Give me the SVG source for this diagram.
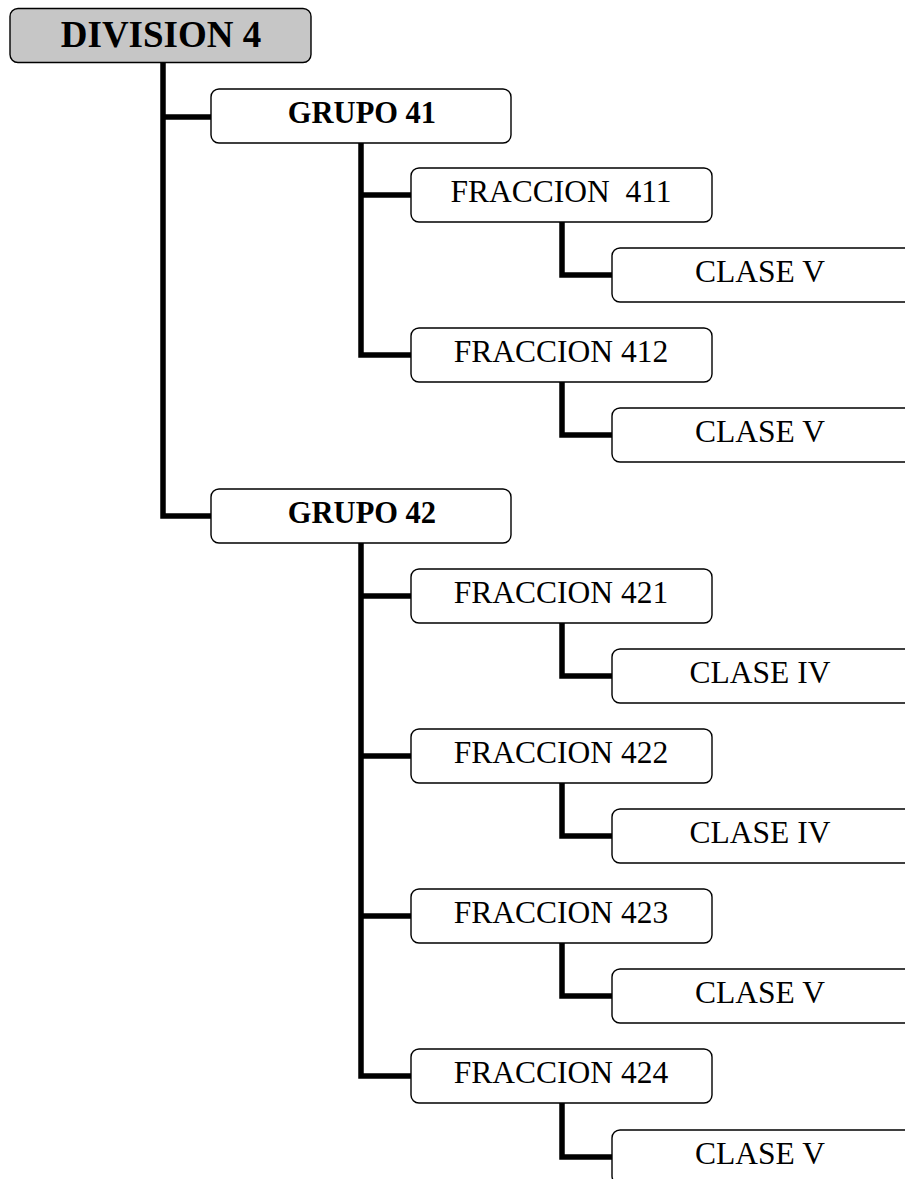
<svg xmlns="http://www.w3.org/2000/svg" width="905" height="1179" viewBox="0 0 905 1179">
<style>
.box{fill:#ffffff;stroke:#000000;stroke-width:1.4}
.gray{fill:#c6c6c6}
.t{font-family:"Liberation Serif","Times New Roman",serif;font-size:31.5px;fill:#000;text-anchor:middle}
.b{font-weight:bold;font-size:30.5px}
.big{font-weight:bold;font-size:37px}
.c{fill:none;stroke:#000;stroke-width:5.5;stroke-linejoin:miter;stroke-linecap:butt}
</style>
<rect width="905" height="1179" fill="#ffffff"/>
<g id="connectors">
<path class="c" d="M163,62 V516 H211 M163,117 H211"/>
<path class="c" d="M361,143 V355 H411 M361,195 H411"/>
<path class="c" d="M361,542 V1076 H411 M361,596 H411 M361,756 H411 M361,916 H411"/>
<path class="c" d="M562,222 V275 H612"/>
<path class="c" d="M562,382 V435 H612"/>
<path class="c" d="M562,622 V676 H612"/>
<path class="c" d="M562,782 V836 H612"/>
<path class="c" d="M562,942 V996 H612"/>
<path class="c" d="M562,1102 V1157 H612"/>
</g>
<g id="division4"><rect class="box gray" x="10" y="8.5" width="301" height="54" rx="8"/><text class="t big" x="161" y="47">DIVISION 4</text></g>
<g id="grupo41"><rect class="box" x="211" y="89" width="300" height="54" rx="8"/><text class="t b" x="362" y="123">GRUPO 41</text></g>
<g id="fraccion411"><rect class="box" x="411" y="168" width="301" height="54" rx="8"/><text class="t" x="561" y="202" xml:space="preserve">FRACCION  411</text></g>
<g id="clase411"><rect class="box" x="612" y="248" width="300" height="54" rx="8"/><text class="t" x="760" y="282">CLASE V</text></g>
<g id="fraccion412"><rect class="box" x="411" y="328" width="301" height="54" rx="8"/><text class="t" x="561" y="362">FRACCION 412</text></g>
<g id="clase412"><rect class="box" x="612" y="408" width="300" height="54" rx="8"/><text class="t" x="760" y="442">CLASE V</text></g>
<g id="grupo42"><rect class="box" x="211" y="489" width="300" height="54" rx="8"/><text class="t b" x="362" y="523">GRUPO 42</text></g>
<g id="fraccion421"><rect class="box" x="411" y="569" width="301" height="54" rx="8"/><text class="t" x="561" y="603">FRACCION 421</text></g>
<g id="clase421"><rect class="box" x="612" y="649" width="300" height="54" rx="8"/><text class="t" x="760" y="683">CLASE IV</text></g>
<g id="fraccion422"><rect class="box" x="411" y="729" width="301" height="54" rx="8"/><text class="t" x="561" y="763">FRACCION 422</text></g>
<g id="clase422"><rect class="box" x="612" y="809" width="300" height="54" rx="8"/><text class="t" x="760" y="843">CLASE IV</text></g>
<g id="fraccion423"><rect class="box" x="411" y="889" width="301" height="54" rx="8"/><text class="t" x="561" y="923">FRACCION 423</text></g>
<g id="clase423"><rect class="box" x="612" y="969" width="300" height="54" rx="8"/><text class="t" x="760" y="1003">CLASE V</text></g>
<g id="fraccion424"><rect class="box" x="411" y="1049" width="301" height="54" rx="8"/><text class="t" x="561" y="1083">FRACCION 424</text></g>
<g id="clase424"><rect class="box" x="612" y="1130" width="300" height="54" rx="8"/><text class="t" x="760" y="1164">CLASE V</text></g>
</svg>
